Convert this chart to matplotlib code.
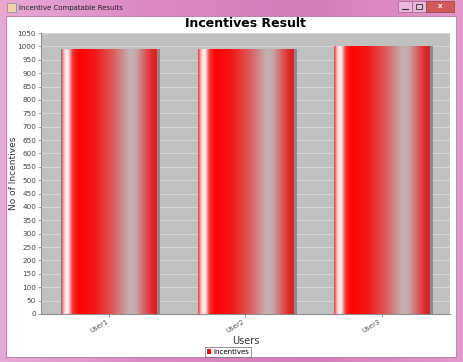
import numpy as np
import matplotlib
matplotlib.use("Agg")
import matplotlib.pyplot as plt
from matplotlib.patches import Rectangle
from matplotlib.colors import LinearSegmentedColormap

categories = ["User1", "User2", "User3"]
incentives = [990, 990, 1000]
yticks = list(range(0, 1051, 50))

W, H = 464, 362
fig = plt.figure(figsize=(W / 100, H / 100), dpi=100)

# window frame
bg = fig.add_axes([0, 0, 1, 1])
bg.set_xlim(0, W)
bg.set_ylim(H, 0)
bg.axis("off")
grad = np.linspace(0, 1, 256).reshape(1, -1)
frame_cmap = LinearSegmentedColormap.from_list("frame", ["#e7a9d6", "#dc86c2", "#d77ab9", "#e396cc"])
bg.imshow(grad, cmap=frame_cmap, extent=[0, W, H, 0], aspect="auto", zorder=0)
bg.add_patch(Rectangle((6, 16), 450, 341, facecolor="white", edgecolor="#b07aa0", lw=0.6, zorder=1))
bg.add_patch(Rectangle((7, 3), 9, 9, facecolor="#e8d8a0", edgecolor="#8080a0", lw=0.5, zorder=2))
bg.text(19, 8, "Incentive Compatable Results", fontsize=5, va="center", ha="left", color="#202020", zorder=2)
bg.add_patch(Rectangle((398, 1), 14, 11, facecolor="#e9b8dc", edgecolor="#a06090", lw=0.5, zorder=2))
bg.add_patch(Rectangle((412, 1), 14, 11, facecolor="#e9b8dc", edgecolor="#a06090", lw=0.5, zorder=2))
bg.add_patch(Rectangle((426, 1), 28, 11, facecolor="#d05a5a", edgecolor="#904040", lw=0.5, zorder=2))
bg.text(440, 6.5, "x", fontsize=5, color="white", ha="center", va="center", zorder=3, fontweight="bold")
bg.plot([402, 408], [9, 9], color="#303030", lw=0.8, zorder=3)
bg.add_patch(Rectangle((416, 4), 6, 5, facecolor="none", edgecolor="#303030", lw=0.6, zorder=3))

# chart
left, top, right, bottom = 41, 33, 450, 314
ax = fig.add_axes([left / W, 1 - bottom / H, (right - left) / W, (bottom - top) / H])
ax.set_facecolor("#c0c0c0")
x = np.arange(len(categories))
bar_w = 0.7

# shadows
ax.bar(x + 0.025, incentives, width=bar_w, color="#8a8a8a", zorder=1)
bars = ax.bar(x, incentives, width=bar_w, color="red", zorder=2, label="Incentives")

bar_cmap = LinearSegmentedColormap.from_list(
    "bar",
    [(0.0, "#e04040"), (0.04, "#ffe0e0"), (0.07, "#fff4f4"), (0.12, "#ff3030"),
     (0.18, "#ff0000"), (0.35, "#f01818"), (0.55, "#d86060"), (0.72, "#c0b4b4"),
     (0.78, "#c8a8a8"), (0.9, "#e04848"), (0.97, "#e02020"), (1.0, "#c03030")])
for b in bars:
    im = ax.imshow(grad, cmap=bar_cmap, aspect="auto", zorder=3,
                   extent=[b.get_x(), b.get_x() + b.get_width(), 0, b.get_height()])
    im.set_clip_path(b)

ax.set_xlim(-0.5, 2.5)
ax.set_ylim(0, 1050)
ax.set_yticks(yticks)
ax.set_yticklabels([str(t) for t in yticks], fontsize=5.2, color="#444444")
ax.set_xticks(x)
ax.set_xticklabels(categories, fontsize=5, color="#555555", rotation=30, ha="right")
ax.tick_params(axis="both", length=2, width=0.5, color="#808080", pad=1.5)
ax.yaxis.grid(True, color="#e0e0e0", lw=0.5)
ax.set_axisbelow(True)
for s in ["top", "right"]:
    ax.spines[s].set_visible(False)
for s in ["left", "bottom"]:
    ax.spines[s].set_color("#909090")
    ax.spines[s].set_linewidth(0.8)
ax.set_ylabel("No of Incentives", fontsize=6.5, color="#333333", labelpad=0)
ax.set_xlabel("Users", fontsize=7, color="#333333", labelpad=1)
ax.set_title("Incentives Result", fontsize=9, fontweight="bold", color="black", pad=4)

leg = fig.legend(handles=[bars], labels=["Incentives"], loc="center",
                 bbox_to_anchor=(228 / W, 1 - 352 / H), fontsize=5, frameon=True,
                 fancybox=False, handlelength=0.7, handleheight=0.7, borderpad=0.3,
                 handletextpad=0.3)
leg.get_frame().set_edgecolor("#606060")
leg.get_frame().set_linewidth(0.6)

fig.savefig("out.png", dpi=100)
